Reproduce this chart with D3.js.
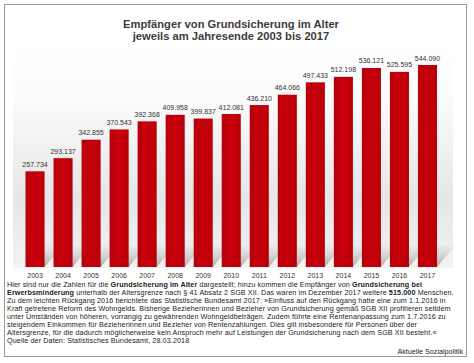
<!DOCTYPE html>
<html>
<head>
<meta charset="utf-8">
<script src="https://cdn.jsdelivr.net/npm/d3@7.9.0/dist/d3.min.js"></script>
<style>
  body { margin: 0; background: #fff; }
  svg { display: block; font-family: Arial, "Liberation Sans", sans-serif; }
</style>
</head>
<body>
<svg id="chart" width="474" height="363"></svg>
<script>
// data
const years = ['2003', '2004', '2005', '2006', '2007', '2008', '2009', '2010',
               '2011', '2012', '2013', '2014', '2015', '2016', '2017'];
const recipients = [257734, 293137, 342855, 370543, 392368, 409958, 399837, 412081,
                    436210, 464066, 497433, 512198, 536121, 525595, 544090];
const titleLines = ['Empfänger von Grundsicherung im Alter', 'jeweils am Jahresende 2003 bis 2017'];
// footnote, [text, bold]
const noteLines = [
  [['Hier sind nur die Zahlen für die ', false], ['Grundsicherung im Alter', true],
   [' dargestellt; hinzu kommen die Empfänger von ', false], ['Grundsicherung bei', true]],
  [['Erwerbsminderung', true], [' unterhalb der Altersgrenze nach § 41 Absatz 2 SGB XII. Das waren im Dezember 2017 weitere ', false],
   ['515.000', true], [' Menschen.', false]],
  [['Zu dem leichten Rückgang 2016 berichtete das Statistische Bundesamt 2017: »Einfluss auf den Rückgang hatte eine zum 1.1.2016 in', false]],
  [['Kraft getretene Reform des Wohngelds. Bisherige Bezieherinnen und Bezieher von Grundsicherung gemäß SGB XII profitieren seitdem', false]],
  [['unter Umständen von höheren, vorrangig zu gewährenden Wohngeldbeträgen. Zudem führte eine Rentenanpassung zum 1.7.2016 zu', false]],
  [['steigendem Einkommen für Bezieherinnen und Bezieher von Rentenzahlungen. Dies gilt insbesondere für Personen über der', false]],
  [['Altersgrenze, für die dadurch möglicherweise kein Anspruch mehr auf Leistungen der Grundsicherung nach dem SGB XII besteht.«', false]],
  [['Quelle der Daten: Statistisches Bundesamt, 28.03.2018', false]]
];
const credit = 'Aktuelle Sozialpolitik';

const svg = d3.select('#chart');
const fmt = d3.format(',d');
const de = (v) => fmt(v).replace(/,/g, '.');

const defs = svg.append('defs');
let bg = defs.append('linearGradient').attr('id', 'bg').attr('x1', 0).attr('y1', 0).attr('x2', 0).attr('y2', 1);
bg.append('stop').attr('offset', '0%').attr('stop-color', '#ffffff');
bg.append('stop').attr('offset', '25%').attr('stop-color', '#fbfbfb');
bg.append('stop').attr('offset', '70%').attr('stop-color', '#e6e6e6');
bg.append('stop').attr('offset', '100%').attr('stop-color', '#f3f3f3');

let sh = defs.append('linearGradient').attr('id', 'shadow').attr('x1', 0).attr('y1', 1).attr('x2', 0).attr('y2', 0);
sh.append('stop').attr('offset', '0%').attr('stop-color', '#9a9a9a').attr('stop-opacity', 0.8);
sh.append('stop').attr('offset', '100%').attr('stop-color', '#bbbbbb').attr('stop-opacity', 0);

let bar = defs.append('linearGradient').attr('id', 'bar').attr('x1', 0).attr('y1', 0).attr('x2', 1).attr('y2', 0);
bar.append('stop').attr('offset', '0%').attr('stop-color', '#b5000a');
bar.append('stop').attr('offset', '45%').attr('stop-color', '#c8000c');
bar.append('stop').attr('offset', '100%').attr('stop-color', '#b8000a');

// frame
svg.append('rect')
  .attr('x', 4.5).attr('y', 4.5).attr('width', 462).attr('height', 352)
  .attr('fill', '#fff').attr('stroke', '#9a9a9a').attr('stroke-width', 1);

// plot background
const base = 267;
svg.append('rect')
  .attr('x', 13).attr('y', 40).attr('width', 440).attr('height', base - 40 + 1)
  .attr('fill', 'url(#bg)');

const x = d3.scaleBand()
  .domain(years)
  .range([25.5, 437])
  .paddingInner(0.32)
  .paddingOuter(0);

const y = d3.scaleLinear()
  .domain([0, d3.max(recipients)])
  .range([base, 65]);

const data = years.map((yr, i) => ({ year: yr, value: recipients[i] }));

// floor shadows
svg.append('g').selectAll('path')
  .data(data)
  .join('path')
  .attr('d', (d) => {
    let x0 = x(d.year), w = x.bandwidth();
    return `M${x0},${base} L${x0 + w},${base} L${x0 + w + 20},${base - 24} L${x0 + 20},${base - 24} Z`;
  })
  .attr('fill', 'url(#shadow)');

svg.append('g').selectAll('rect')
  .data(data)
  .join('rect')
  .attr('x', (d) => x(d.year))
  .attr('y', (d) => y(d.value))
  .attr('width', x.bandwidth())
  .attr('height', (d) => base - y(d.value))
  .attr('fill', 'url(#bar)');

svg.append('g').selectAll('text')
  .data(data)
  .join('text')
  .attr('x', (d) => x(d.year) + x.bandwidth() / 2)
  .attr('y', (d) => y(d.value) - 4.5)
  .attr('text-anchor', 'middle')
  .attr('font-size', 7)
  .attr('fill', '#333')
  .text((d) => de(d.value));

// year axis
const xAxis = svg.append('g')
  .attr('transform', `translate(0,${base})`)
  .call(d3.axisBottom(x).tickSize(0).tickPadding(6));
xAxis.select('.domain').remove();
xAxis.selectAll('text').attr('font-size', 7).attr('fill', '#333').attr('font-family', null);

// title
svg.append('g').selectAll('text')
  .data(titleLines)
  .join('text')
  .attr('x', 231)
  .attr('y', (d, i) => 28 + i * 11.5)
  .attr('text-anchor', 'middle')
  .attr('font-size', 11.2)
  .attr('font-weight', 'bold')
  .attr('fill', '#3c3c3c')
  .text((d) => d);

// footnote
const note = svg.append('g').attr('font-size', 7.2).attr('letter-spacing', 0.1).attr('fill', '#222');
noteLines.forEach((segs, i) => {
  let t = note.append('text').attr('x', 7).attr('y', 286.5 + i * 8.1);
  segs.forEach(([s, b]) => {
    t.append('tspan').attr('font-weight', b ? 'bold' : null).text(s);
  });
});

svg.append('text')
  .attr('x', 463).attr('y', 353.5)
  .attr('text-anchor', 'end')
  .attr('font-size', 7.2)
  .attr('fill', '#222')
  .text(credit);
</script>
</body>
</html>
